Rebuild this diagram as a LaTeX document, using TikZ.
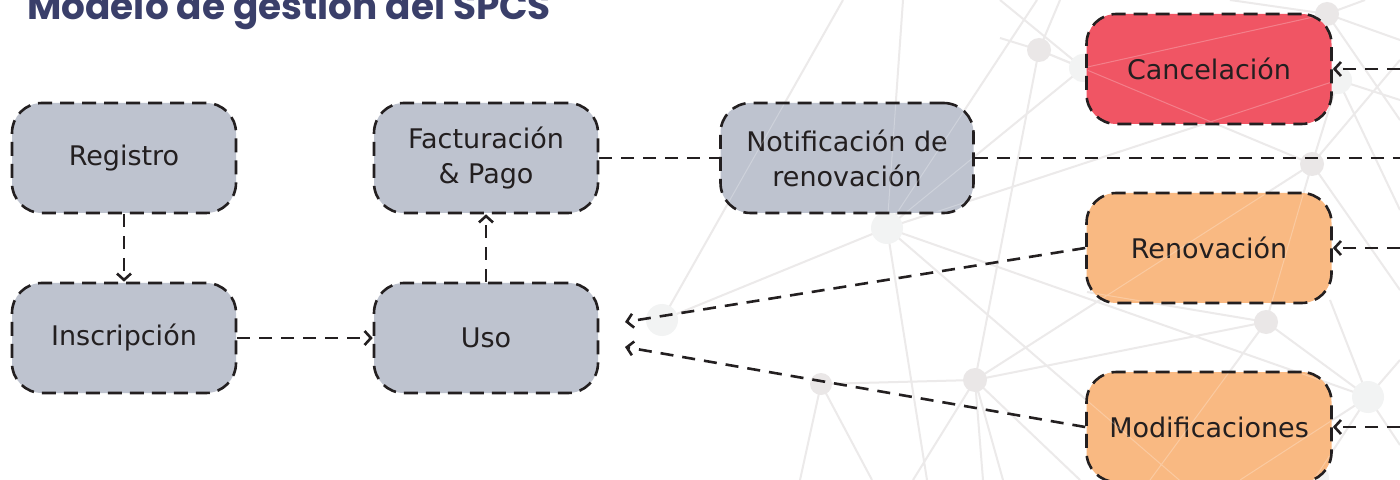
\documentclass[tikz,border=0pt]{standalone}
\usepackage{fontspec}
\setmainfont{DejaVu Sans}
\newfontfamily\titlefont{Poppins}
\usetikzlibrary{arrows.meta}
\definecolor{boxgray}{HTML}{BEC3CF}
\definecolor{boxred}{HTML}{F05564}
\definecolor{boxorange}{HTML}{F9B982}
\definecolor{ink}{HTML}{231F20}
\definecolor{titleblue}{HTML}{3A3F6A}
\definecolor{netline}{HTML}{ECEAEA}
\definecolor{netdot}{HTML}{EAE7E7}
\definecolor{netdotl}{HTML}{F2F3F3}
\newcommand\mynetwork[1]{\draw[#1]
  (n1)--(n11) (n1)--(n4) (n1)--(n8) (n1)--(1000,38) (n1)--(1060,0)
  (n5)--(n6) (n5)--(903,0) (n5)--(n11) (n5)--(n10) (n5)--(1185,485) (n5)--(927,480) (n5)--(n3) (n5)--(1037,0)
  (n6)--(843,0)
  (n7)--(n8) (n7)--(800,480) (n7)--(872,480)
  (n8)--(n4) (n8)--(n9) (n8)--(913,480) (n8)--(983,480) (n8)--(1003,480) (n8)--(1080,480)
  (n9)--(n10) (n9)--(1150,480) (n9)--(n4) (n9)--(1087,292)
  (n4)--(n3) (n4)--(1400,290) (n4)--(1400,60)
  (n2)--(1400,40) (n2)--(1230,0) (n2)--(1400,120) (n2)--(n11) (n2)--(1365,0)
  (n3)--(1400,100) (n3)--(1400,210)
  (n10)--(1400,360) (n10)--(1400,445) (n10)--(n12) (n10)--(1240,480) (n10)--(1330,300)
  (n11)--(1000,0);}
\begin{document}
\begin{tikzpicture}[x=0.5pt,y=-0.5pt,
  stepbox/.style={draw=ink, line width=1.3pt, dash pattern=on 7pt off 4pt,
    rounded corners=15pt, minimum width=112pt, minimum height=55pt,
    align=center, text=ink, inner sep=0pt,
    font=\fontsize{13.5}{17.5}\selectfont},
  graybox/.style={stepbox, fill=boxgray},
  redbox/.style={stepbox, fill=boxred, minimum width=122.5pt},
  orangebox/.style={stepbox, fill=boxorange, minimum width=122.5pt},
  conn/.style={draw=ink, line width=1.3pt, dash pattern=on 6.5pt off 4.5pt},
  arr/.style={conn, -{Straight Barb[length=3.2pt,width=7pt]}},
  netl/.style={draw=netline, line width=1pt},
  netw/.style={draw=white, line width=0.5pt, opacity=0.25},
  dot/.style={fill=netdot},
  dotl/.style={fill=netdotl},
]
\useasboundingbox (0,0) rectangle (1400,480);
\clip (0,0) rectangle (1400,480);
\fill[white] (0,0) rectangle (1400,480);

% background network
\coordinate (n1) at (1039,50);
\coordinate (n2) at (1327,14);
\coordinate (n3) at (1338,80);
\coordinate (n4) at (1312,164);
\coordinate (n5) at (887,228);
\coordinate (n6) at (662,320);
\coordinate (n7) at (821,384);
\coordinate (n8) at (975,380);
\coordinate (n9) at (1266,322);
\coordinate (n10) at (1368,397);
\coordinate (n11) at (1083,68);
\coordinate (n12) at (1315,478);
\mynetwork{netl}
\fill[dot] (n1) circle[radius=6pt];
\fill[dot] (n2) circle[radius=6pt];
\fill[dotl] (n3) circle[radius=7pt];
\fill[dot] (n4) circle[radius=6pt];
\fill[dotl] (n5) circle[radius=8pt];
\fill[dotl] (n6) circle[radius=8pt];
\fill[dot] (n7) circle[radius=5.5pt];
\fill[dot] (n8) circle[radius=6pt];
\fill[dot] (n9) circle[radius=6pt];
\fill[dotl] (n10) circle[radius=8pt];
\fill[dotl] (n11) circle[radius=7pt];
\fill[dotl] (n12) circle[radius=7pt];

% title
\node[anchor=base west, inner sep=0pt, text=titleblue,
  font=\titlefont\bfseries\fontsize{18.7}{22}\selectfont] (title) at (27,20)
  {Modelo de gestión del SPCS};

% process boxes
\node[graybox] (registro) at (124,158) {Registro};
\node[graybox] (inscripcion) at (124,338) {Inscripción};
\node[graybox] (factura) at (486,158) {Facturación\\\& Pago};
\node[graybox] (uso) at (486,338) {Uso};
\node[graybox, minimum width=126.5pt] (notif) at (847,158) {Notificación de\\renovación};
\node[redbox] (cancel) at (1209,69) {Cancelación};
\node[orangebox] (renov) at (1209,248) {Renovación};
\node[orangebox] (modif) at (1209,427) {Modificaciones};

% faint network lines seen through the boxes
\begin{scope}
\clip[rounded corners=14pt]
  ([shift={(3,3)}]registro.north west) rectangle ([shift={(-3,-3)}]registro.south east)
  ([shift={(3,3)}]factura.north west) rectangle ([shift={(-3,-3)}]factura.south east)
  ([shift={(3,3)}]notif.north west) rectangle ([shift={(-3,-3)}]notif.south east)
  ([shift={(3,3)}]cancel.north west) rectangle ([shift={(-3,-3)}]cancel.south east)
  ([shift={(3,3)}]renov.north west) rectangle ([shift={(-3,-3)}]renov.south east)
  ([shift={(3,3)}]modif.north west) rectangle ([shift={(-3,-3)}]modif.south east);
\mynetwork{netw}
\end{scope}

% free ends
\coordinate (eC) at (1400,69);
\coordinate (eN) at (1400,158);
\coordinate (eR) at (1400,248);
\coordinate (eM) at (1400,427);
\coordinate (uA) at (625,322);
\coordinate (uB) at (625,347);

% connectors
\draw[arr] (registro.south) -- (inscripcion.north);
\draw[arr] (inscripcion.east) -- (uso.west);
\draw[arr] (uso.north) -- (factura.south);
\draw[conn] (factura.east) -- (notif.west);
\draw[conn] (notif.east) -- (eN);
\draw[arr] (eC) -- (cancel.east);
\draw[arr] (eR) -- (renov.east);
\draw[arr] (eM) -- (modif.east);
\draw[arr] (renov.west) -- (uA);
\draw[arr] (modif.west) -- (uB);
\end{tikzpicture}
\end{document}
